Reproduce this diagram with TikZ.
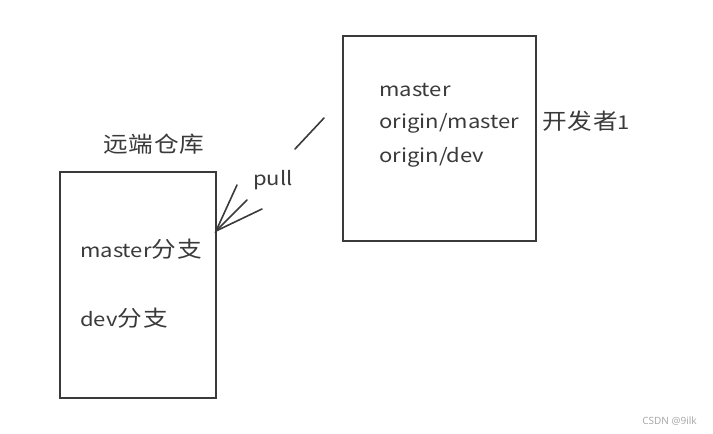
\documentclass[tikz,border=0pt]{standalone}
\usepackage{fontspec}
\setmainfont{Noto Sans}
\newfontfamily\cjk[FakeStretch=1.16]{Noto Sans CJK SC}
\newfontfamily\zhfam[FakeStretch=1.12,LetterSpace=4]{Noto Sans CJK SC}
\newcommand{\zh}{\fontsize{22}{24}\selectfont\zhfam}
\definecolor{ink}{HTML}{3A3A3A}
\definecolor{mark}{HTML}{AAAAAA}
\begin{document}
\begin{tikzpicture}[x=1pt,y=-1pt,
  boxline/.style={draw=ink,line width=1.5pt},
  stroke/.style={draw=ink,line width=1.6pt,line cap=round},
  lbl/.style={inner sep=0pt,anchor=west,text=ink,font=\fontsize{19}{22}\selectfont\cjk}]
\useasboundingbox[fill=white] (0,0) rectangle (713,434);
\node[boxline,minimum width=193pt,minimum height=205pt,inner sep=0pt,anchor=north west] (dev) at (342,35) {};
\node[boxline,minimum width=156pt,minimum height=226pt,inner sep=0pt,anchor=north west] (remote) at (59,171) {};
\node[lbl] (t1) at (379,90) {master};
\node[lbl] (t2) at (379,123) {origin/master};
\node[lbl] (t3) at (379,157) {origin/dev};
\node[lbl] (devname) at (542,121) {{\zh 开发者}1};
\node[lbl] (rname) at (103,144) {{\zh 远端仓库}};
\node[lbl] (b1) at (80,249) {master{\zh 分支}};
\node[lbl] (b2) at (80,318) {dev{\zh 分支}};
\node[lbl] (pull) at (253,180) {pull};
\coordinate (s1) at (324,118);
\coordinate (s2) at (295,149);
\coordinate (tip) at (216,231);
\coordinate (h1) at (237,185);
\coordinate (h2) at (247,200);
\coordinate (h3) at (262,209);
\draw[stroke] (s1) -- (s2);
\draw[stroke] (h1) -- (tip) -- (h3);
\draw[stroke] (h2) -- (tip);
\node[inner sep=0pt,anchor=east,text=mark,font=\fontsize{10}{12}\selectfont] (wm) at (697,421) {CSDN @9ilk};
\end{tikzpicture}
\end{document}
